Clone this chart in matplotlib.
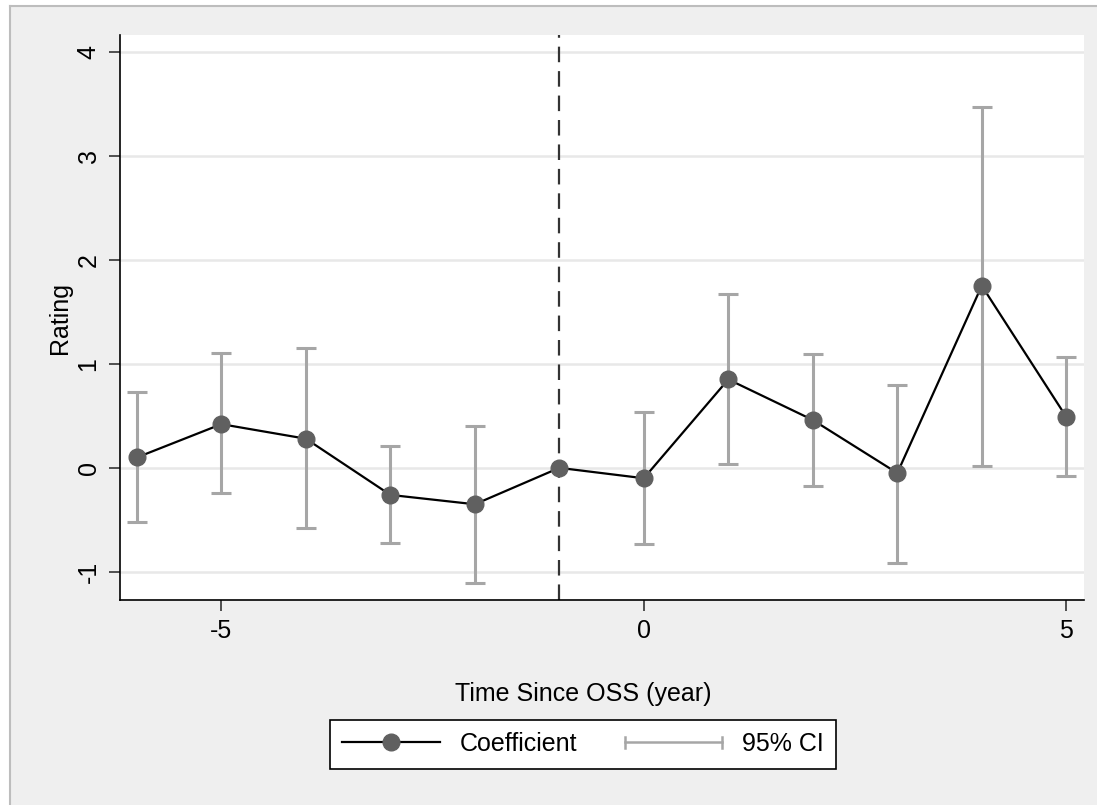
"""Event-study plot: rating coefficients around OSS adoption."""

import matplotlib
matplotlib.use('Agg')
import matplotlib.pyplot as plt
from matplotlib.lines import Line2D
from matplotlib.patches import Rectangle
from matplotlib.legend_handler import HandlerBase

plt.rcParams['font.family'] = ['Liberation Sans', 'DejaVu Sans']
plt.rcParams['axes.unicode_minus'] = False

# Data
years = [-6, -5, -4, -3, -2, -1, 0, 1, 2, 3, 4, 5]
coef = [0.10, 0.42, 0.28, -0.26, -0.35, 0.0, -0.10, 0.85, 0.46, -0.05, 1.75, 0.49]
ci_low = [-0.52, -0.24, -0.58, -0.72, -1.11, None, -0.73, 0.04, -0.17, -0.91, 0.02, -0.08]
ci_high = [0.73, 1.10, 1.15, 0.21, 0.40, None, 0.54, 1.67, 1.09, 0.80, 3.47, 1.07]
ref_year = -1

CI_COLOR = '#a6a6a6'
PT_COLOR = '#606060'
FS = 18

fig = plt.figure(figsize=(10.97, 8.05), dpi=100, facecolor='white')
# Stata-like gray background with a thin border on top/left
fig.patches.append(Rectangle((10/1097, 0), 1.0, 1 - 6/805, transform=fig.transFigure,
                             facecolor='#efefef', edgecolor='none', zorder=-2))
fig.add_artist(Line2D([10/1097, 10/1097], [0, 1 - 6/805], color='#bdbdbd', lw=1.5,
                      transform=fig.transFigure))
fig.add_artist(Line2D([10/1097, 1], [1 - 6/805, 1 - 6/805], color='#bdbdbd', lw=1.5,
                      transform=fig.transFigure))

ax = fig.add_axes([120/1097, 205/805, 964/1097, 565/805])
ax.set_facecolor('white')

# CIs (skip the reference year)
ci_x = [x for x, lo in zip(years, ci_low) if lo is not None]
ci_c = [c for c, lo in zip(coef, ci_low) if lo is not None]
lo_err = [c - lo for c, lo in zip(coef, ci_low) if lo is not None]
hi_err = [hi - c for c, hi in zip(coef, ci_high) if hi is not None]
ax.errorbar(ci_x, ci_c, yerr=[lo_err, hi_err], fmt='none', ecolor=CI_COLOR,
            elinewidth=2.2, capsize=7, capthick=2.2, zorder=2)

ax.plot(years, coef, '-', color='black', lw=1.6, zorder=3)
ax.plot(years, coef, 'o', color=PT_COLOR, markersize=12, zorder=4)

ax.axvline(ref_year, color='#333333', lw=1.6, ls=(0, (7, 4)), zorder=1)

ax.set_xlim(-6.2, 5.21)
ax.set_ylim(-1.27, 4.16)
ax.set_yticks([-1, 0, 1, 2, 3, 4])
ax.set_xticks([-5, 0, 5])
ax.yaxis.grid(True, color='#e8e8e8', lw=1.8)
ax.set_axisbelow(True)

for s in ['top', 'right']:
    ax.spines[s].set_visible(False)
for s in ['left', 'bottom']:
    ax.spines[s].set_color('black')
    ax.spines[s].set_linewidth(1.2)

ax.tick_params(axis='both', length=8, width=1.2, color='#333333', labelsize=FS)
ax.tick_params(axis='y', pad=6)
ax.tick_params(axis='x', pad=6)
for lab in ax.get_yticklabels():
    lab.set_rotation(90)
    lab.set_va('center')

ax.set_ylabel('Rating', fontsize=FS, labelpad=3)
ax.set_xlabel('Time Since OSS (year)', fontsize=FS, labelpad=28)
ax.xaxis.label.set_x((583 - 120) / 964)


class CIHandler(HandlerBase):
    def create_artists(self, legend, orig_handle, xdescent, ydescent, width, height,
                       fontsize, trans):
        y = height / 2 - ydescent
        cap = height * 0.3
        line = Line2D([-xdescent, width - xdescent], [y, y], color=CI_COLOR, lw=1.8)
        c1 = Line2D([-xdescent, -xdescent], [y - cap, y + cap], color=CI_COLOR, lw=1.8)
        c2 = Line2D([width - xdescent] * 2, [y - cap, y + cap], color=CI_COLOR, lw=1.8)
        for a in (line, c1, c2):
            a.set_transform(trans)
        return [line, c1, c2]


h_coef = Line2D([], [], color='black', lw=1.6, marker='o', markersize=12,
                markerfacecolor=PT_COLOR, markeredgecolor=PT_COLOR)
h_ci = object()
leg = fig.legend([h_coef, h_ci], ['Coefficient', '95% CI'], ncol=2,
                 handler_map={object: CIHandler()},
                 loc='center', bbox_to_anchor=(583/1097, 61/805),
                 fontsize=FS, frameon=True, fancybox=False, edgecolor='black',
                 framealpha=1, handlelength=3.9, handletextpad=0.8, columnspacing=1.9,
                 borderpad=0.5, numpoints=1)
leg.get_frame().set_linewidth(1.2)

fig.savefig('out.png', dpi=100, facecolor=fig.get_facecolor())
